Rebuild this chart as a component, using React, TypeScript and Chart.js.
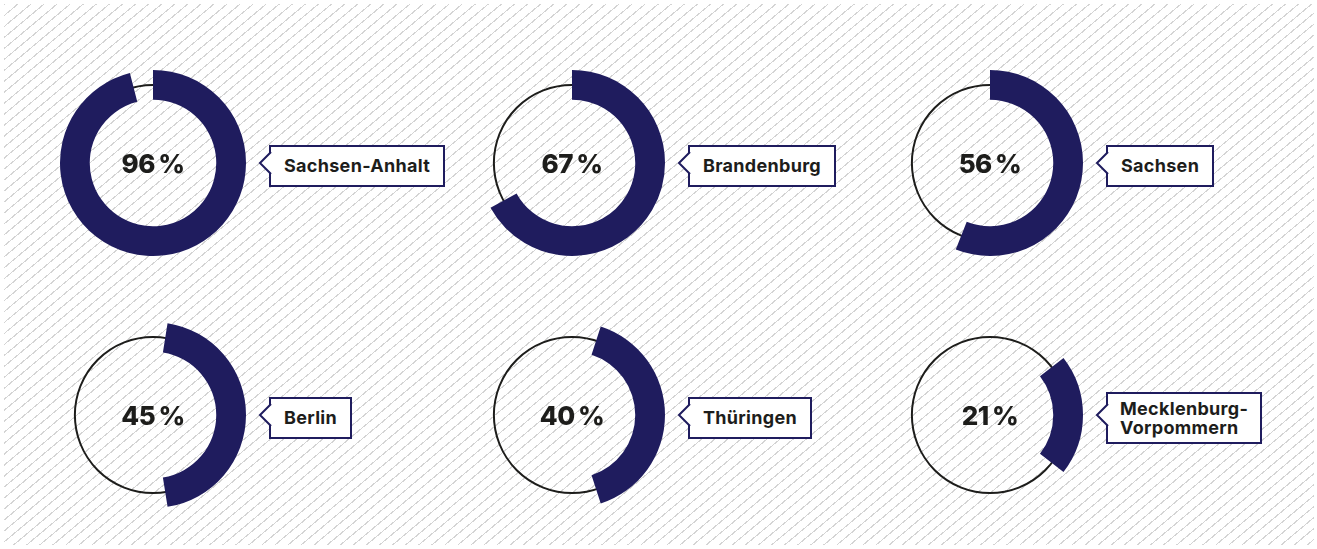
import React, { useEffect, useRef } from "react";
import { Chart, registerables } from "chart.js";

Chart.register(...registerables);

const regions = ["Sachsen-Anhalt", "Brandenburg", "Sachsen", "Berlin", "Thüringen", "Mecklenburg-\nVorpommern"];
const shares = [96, 67, 56, 45, 40, 21];
const rowOf = [0, 0, 0, 1, 1, 1];
const colOf = [0, 1, 2, 0, 1, 2];

const NAVY = "#1f1c5e";
const INK = "#1d1d1b";
const FONT = "Inter, 'Open Sans', sans-serif";

const colX = [153, 572, 990];
const rowY = [163, 415];

const ringPlugin = {
  id: "thinRing",
  beforeDatasetsDraw(chart: any) {
    const meta = chart.getDatasetMeta(0);
    const arc = meta.data[0];
    if (!arc) return;
    const { x, y, innerRadius, outerRadius } = arc.getProps(["x", "y", "innerRadius", "outerRadius"], true);
    const ctx = chart.ctx;
    ctx.save();
    ctx.beginPath();
    ctx.arc(x, y, (innerRadius + outerRadius) / 2, 0, Math.PI * 2);
    ctx.lineWidth = 2;
    ctx.strokeStyle = INK;
    ctx.stroke();
    ctx.restore();
  },
};

function Gauge({ value, row }: { value: number; row: number }) {
  const ref = useRef<HTMLCanvasElement | null>(null);
  useEffect(() => {
    if (!ref.current) return;
    const rotation = row === 0 ? 0 : 90 - value * 1.8;
    const chart = new Chart(ref.current, {
      type: "doughnut",
      data: {
        labels: ["Anteil", "Rest"],
        datasets: [
          {
            data: [value, 100 - value],
            backgroundColor: [NAVY, "rgba(0,0,0,0)"],
            borderWidth: 0,
            radius: 93,
            cutout: 68,
          } as any,
        ],
      },
      options: {
        responsive: false,
        maintainAspectRatio: false,
        animation: false,
        rotation,
        events: [],
        layout: { padding: 0 },
        plugins: { legend: { display: false }, tooltip: { enabled: false } },
      },
      plugins: [ringPlugin],
    });
    return () => chart.destroy();
  }, [value, row]);
  return <canvas ref={ref} width={200} height={200} style={{ display: "block" }} />;
}

function Label({ text }: { text: string }) {
  const multi = text.includes("\n");
  return (
    <div
      style={{
        position: "relative",
        background: "#fff",
        border: `2px solid ${NAVY}`,
        padding: multi ? "5px 12px 5px 12px" : "9px 13px 9px 13px",
        fontFamily: FONT,
        fontWeight: 700,
        fontSize: 18,
        letterSpacing: 0.3,
        lineHeight: multi ? "19px" : "20px",
        color: INK,
        whiteSpace: "pre",
      }}
    >
      {text}
      <svg
        width={14}
        height={24}
        style={{ position: "absolute", left: -14, top: "50%", marginTop: -15, overflow: "visible" }}
      >
        <polygon points="14,1 3,12 14,23" fill="#fff" stroke="none" />
        <rect x={12} y={2} width={4} height={20} fill="#fff" />
        <polyline points="14,1 3,12 14,23" fill="none" stroke={NAVY} strokeWidth={2} />
      </svg>
    </div>
  );
}

export default function App() {
  return (
    <div style={{ position: "absolute", left: 0, top: 0, width: 1317, height: 549, background: "#fff", overflow: "hidden" }}>
      <div
        style={{
          position: "absolute",
          left: 4,
          top: 4,
          width: 1310,
          height: 541,
          backgroundImage:
            "repeating-linear-gradient(140deg, #d4d4d4 0px, #d4d4d4 1.1px, rgba(255,255,255,0) 1.1px, rgba(255,255,255,0) 8.4px)",
        }}
      />
      {shares.map((v, i) => {
        const cx = colX[colOf[i]];
        const cy = rowY[rowOf[i]];
        return (
          <React.Fragment key={regions[i]}>
            <div style={{ position: "absolute", left: cx - 100, top: cy - 100, width: 200, height: 200 }}>
              <Gauge value={v} row={rowOf[i]} />
              <div
                style={{
                  position: "absolute",
                  left: 0,
                  top: 0,
                  width: 200,
                  height: 200,
                  display: "flex",
                  alignItems: "center",
                  justifyContent: "center",
                  fontFamily: FONT,
                  fontWeight: 800,
                  fontSize: 26,
                  color: INK,
                  letterSpacing: -0.5,
                }}
              >
                {`${v}\u2009%`}
              </div>
            </div>
            <div style={{ position: "absolute", left: cx + 116, top: cy + 3, transform: "translateY(-50%)" }}>
              <Label text={regions[i]} />
            </div>
          </React.Fragment>
        );
      })}
    </div>
  );
}
